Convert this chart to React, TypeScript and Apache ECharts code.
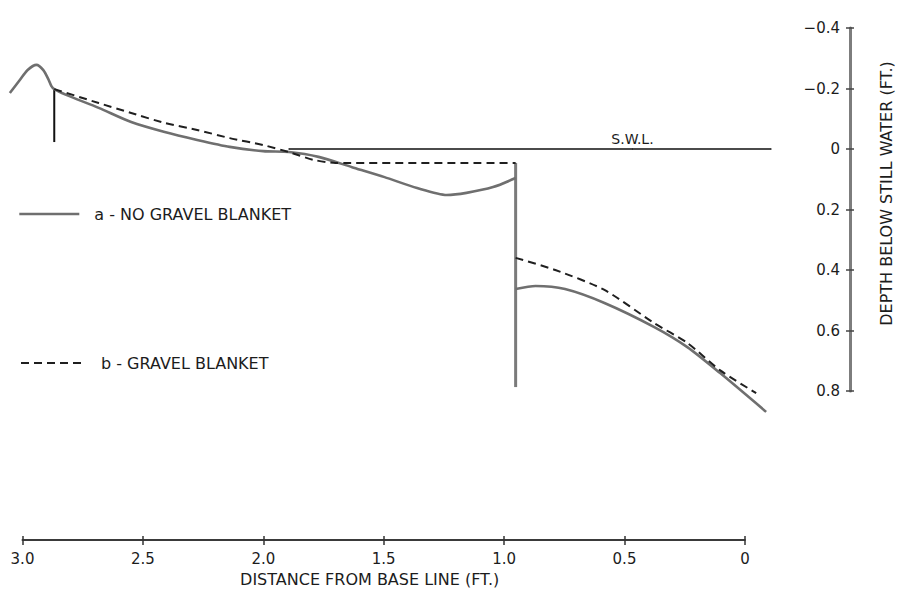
import React, { useEffect, useRef } from "react";
import * as echarts from "echarts";

// Beach profiles: distance from base line (ft) vs depth below still water (ft)
const NAME_A = "a - NO GRAVEL BLANKET";
const NAME_B = "b - GRAVEL BLANKET";

const noBlanketUpper: [number, number][] = [
  [3.052, -0.185], [3.01, -0.228], [2.977, -0.261], [2.94, -0.278], [2.911, -0.261],
  [2.89, -0.231], [2.877, -0.208], [2.865, -0.198], [2.815, -0.179], [2.678, -0.136],
  [2.541, -0.089], [2.4, -0.056], [2.263, -0.03], [2.126, -0.007], [1.985, 0.007],
  [1.877, 0.01], [1.752, 0.026], [1.611, 0.06], [1.474, 0.093], [1.337, 0.129],
  [1.212, 0.152], [1.129, 0.145], [1.017, 0.126], [0.922, 0.096],
];
const noBlanketLower: [number, number][] = [
  [0.922, 0.463], [0.838, 0.453], [0.714, 0.463], [0.548, 0.509], [0.34, 0.588],
  [0.199, 0.655], [0.062, 0.74], [-0.133, 0.869],
];
const blanketUpper: [number, number][] = [
  [2.865, -0.198], [2.678, -0.152], [2.541, -0.119], [2.4, -0.086], [2.263, -0.063],
  [2.126, -0.036], [1.985, -0.013], [1.877, 0.01], [1.773, 0.036], [1.681, 0.046],
  [0.922, 0.046],
];
const blanketLower: [number, number][] = [
  [0.922, 0.36], [0.755, 0.4], [0.548, 0.466], [0.34, 0.575], [0.199, 0.641],
  [0.062, 0.731], [-0.091, 0.807],
];
const wallLine: [number, number][] = [[0.922, 0.046], [0.922, 0.787]];
const toeMark: [number, number][] = [[2.865, -0.198], [2.865, -0.023]];
const swlStart = 1.877;
const swlLabelAt = 0.43;
const swlEnd = -0.154;

const X_TICK_MIN = 0;
const X_TICK_MAX = 3;
const X_TICK_STEP = 0.5;
const DEPTH_MIN = -0.4;
const DEPTH_MAX = 0.8;
const DEPTH_STEP = 0.2;

// layout
const PX_PER_FT = 240.8;
const X_AT_MAX = 22.5;
const PLOT_X_MIN = -0.2;
const PLOT_X_MAX = 3.09;
const PLOT_TOP = 28;
const PLOT_HEIGHT = 363;
const Y_AXIS_X = 861;
const FONT = "DejaVu Sans";
const INK = "#1c1c1c";

const fmtDist = (v: number) => (Math.abs(v) < 1e-9 ? "0" : v.toFixed(1));
const fmtDepth = (v: number) =>
  Math.abs(v) < 1e-9 ? "0" : v < 0 ? "\u2212" + Math.abs(v).toFixed(1) : v.toFixed(1);

export default function App() {
  const ref = useRef<HTMLDivElement>(null);

  useEffect(() => {
    if (!ref.current) return;
    const chart = echarts.init(ref.current, undefined, { renderer: "svg" });

    const grid0Left = X_AT_MAX - (PLOT_X_MAX - X_TICK_MAX) * PX_PER_FT;
    const grid0Width = (PLOT_X_MAX - PLOT_X_MIN) * PX_PER_FT;
    const yOffset = Y_AXIS_X - (grid0Left + grid0Width);

    const depthAxisBase = {
      gridIndex: 0,
      type: "value" as const,
      min: DEPTH_MIN,
      max: DEPTH_MAX,
      interval: DEPTH_STEP,
      inverse: true,
      position: "right" as const,
      offset: yOffset,
      splitLine: { show: false },
    };
    const distAxisBase = {
      gridIndex: 1,
      type: "value" as const,
      min: X_TICK_MIN,
      max: X_TICK_MAX,
      interval: X_TICK_STEP,
      inverse: true,
      position: "bottom" as const,
      splitLine: { show: false },
    };

    const solidStyle = { color: "#6f6f6f", width: 2.6 };
    const dashStyle = { color: "#1f1f1f", width: 2, type: [8, 5] as number[] };
    const legendCommon = {
      padding: 0,
      itemWidth: 60,
      itemHeight: 14,
      selectedMode: false,
      itemStyle: { opacity: 0, color: "rgba(0,0,0,0)", borderWidth: 0 },
    };
    const profile = (name: string, data: [number, number][], style: any, smooth: number, z: number) => ({
      type: "line",
      name,
      xAxisIndex: 0,
      yAxisIndex: 0,
      data,
      smooth,
      symbol: "none",
      clip: false,
      lineStyle: style,
      itemStyle: { color: style.color },
      z,
    });

    chart.setOption({
      animation: false,
      backgroundColor: "#ffffff",
      textStyle: { fontFamily: FONT },
      grid: [
        { left: grid0Left, top: PLOT_TOP, width: grid0Width, height: PLOT_HEIGHT },
        { left: X_AT_MAX, top: 500, width: X_TICK_MAX * PX_PER_FT, height: 40 },
      ],
      xAxis: [
        { gridIndex: 0, type: "value", min: PLOT_X_MIN, max: PLOT_X_MAX, inverse: true, show: false },
        {
          ...distAxisBase,
          axisLine: { onZero: false, lineStyle: { color: "#3a3a3a", width: 2 } },
          axisTick: { length: 5, lineStyle: { color: "#333", width: 1.5 } },
          axisLabel: { margin: 11, fontSize: 15, color: INK, formatter: fmtDist },
          name: "DISTANCE FROM BASE LINE (FT.)",
          nameLocation: "middle",
          nameGap: 31,
          nameTextStyle: { fontSize: 16, color: INK, padding: [0, 28, 0, 0] },
        },
        {
          ...distAxisBase,
          axisLine: { show: false, onZero: false },
          axisTick: { inside: true, length: 4, lineStyle: { color: "#333", width: 1.5 } },
          axisLabel: { show: false },
        },
      ],
      yAxis: [
        {
          ...depthAxisBase,
          axisLine: { show: true, onZero: false, lineStyle: { color: "#7d7d7d", width: 3 } },
          axisTick: { show: true, length: 4, lineStyle: { color: "#444", width: 1.5 } },
          axisLabel: { inside: true, margin: 10, fontSize: 15, color: INK, formatter: fmtDepth },
          name: "DEPTH BELOW STILL WATER (FT.)",
          nameLocation: "middle",
          nameRotate: 90,
          nameGap: 28,
          nameTextStyle: { fontSize: 16, color: INK, padding: [0, 0, 0, 32] },
        },
        {
          ...depthAxisBase,
          axisLine: { show: false, onZero: false },
          axisTick: { show: true, inside: true, length: 4, lineStyle: { color: "#444", width: 1.5 } },
          axisLabel: { show: false },
        },
        { gridIndex: 1, type: "value", min: 0, max: 1, show: false },
      ],
      legend: [
        {
          ...legendCommon,
          data: [NAME_A],
          left: 18,
          top: 206,
          lineStyle: { width: solidStyle.width },
          textStyle: { fontSize: 16, color: INK, padding: [0, 0, 0, 10] },
        },
        {
          ...legendCommon,
          data: [NAME_B],
          left: 20,
          top: 355,
          lineStyle: { width: dashStyle.width },
          textStyle: { fontSize: 16, color: INK, padding: [0, 0, 0, 15] },
        },
      ],
      series: [
        profile(NAME_A, noBlanketUpper, solidStyle, 0.25, 3),
        profile(NAME_A, noBlanketLower, solidStyle, 0.25, 3),
        profile(NAME_B, blanketUpper, dashStyle, 0.2, 4),
        profile(NAME_B, blanketLower, dashStyle, 0.25, 4),
        profile("seawall", wallLine, { color: "#7a7a7a", width: 3 }, 0, 2),
        profile("toe", toeMark, { color: "#111", width: 2 }, 0, 2),
        {
          type: "line", name: "S.W.L.", xAxisIndex: 0, yAxisIndex: 0,
          symbol: "circle", symbolSize: 1, clip: false,
          itemStyle: { color: "#111" },
          lineStyle: { color: "#111", width: 1.3 },
          data: [
            [swlStart, 0],
            {
              value: [swlLabelAt, 0],
              label: {
                show: true, formatter: "S.W.L.", position: "top", distance: 3,
                fontSize: 14, color: INK, fontFamily: FONT,
              },
            },
            [swlEnd, 0],
          ],
          z: 1,
        },
      ],
    });

    return () => chart.dispose();
  }, []);

  return (
    <div
      ref={ref}
      style={{ position: "fixed", left: 0, top: 0, width: 902, height: 590, background: "#fff" }}
    />
  );
}
